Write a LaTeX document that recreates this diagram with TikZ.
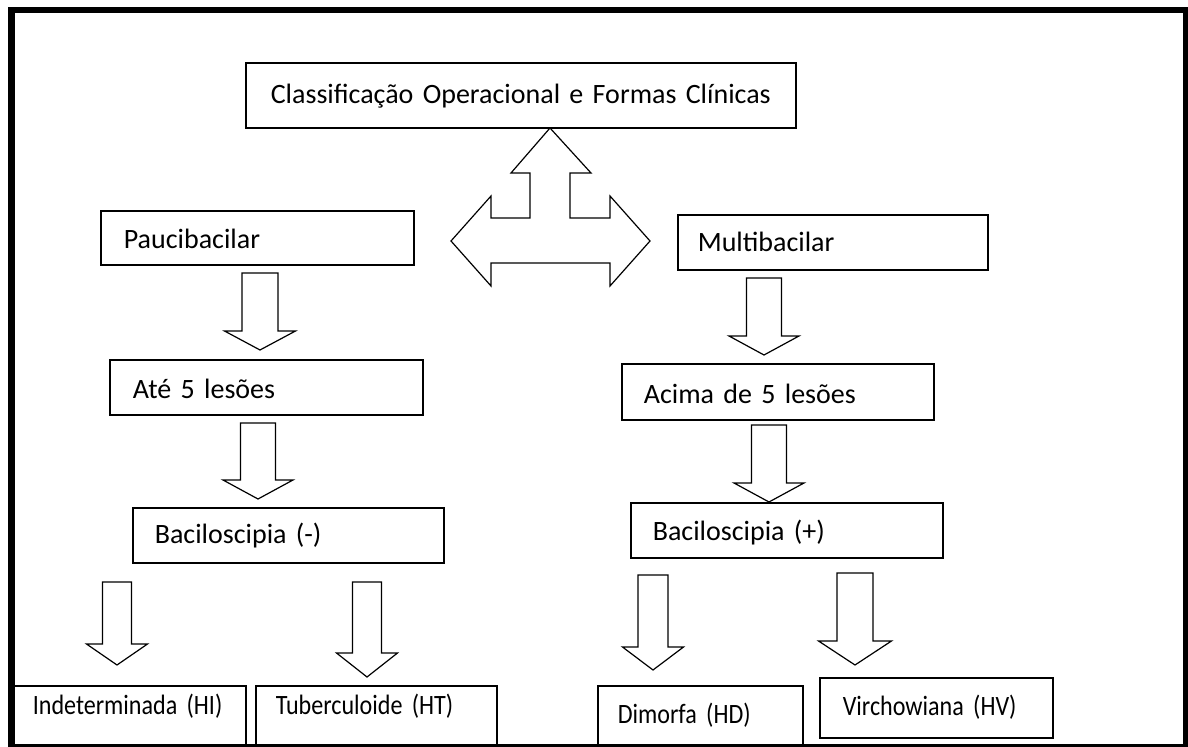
\documentclass[tikz,border=0pt]{standalone}
\usepackage{fontspec}
\setmainfont{Carlito}
\newfontfamily\narrowfont{Carlito}[FakeStretch=0.86]

% hollow down arrow: x, top, head base, tip, shaft half width, head half width
\newcommand{\downblock}[6]{%
 \draw[blockarrow] (#1-#5,#2) -- (#1+#5,#2) -- (#1+#5,#3) -- (#1+#6,#3)
   -- (#1,#4) -- (#1-#6,#3) -- (#1-#5,#3) -- cycle;}

\begin{document}
\begin{tikzpicture}[x=0.5pt, y=-0.5pt,
  box/.style n args={4}{draw, line width=0.8pt, anchor=north west, align=left,
    font=\fontsize{14pt}{16pt}\selectfont, inner ysep=0pt,
    inner xsep=#1, text width=#2, text height=#3, text depth=#4},
  narrowtext/.style={font=\narrowfont\fontsize{14pt}{16pt}\selectfont},
  blockarrow/.style={draw, line width=0.6pt, fill=white, line join=miter}]
 \useasboundingbox (0,0) rectangle (1188,747);
 \fill[white] (0,0) rectangle (1188,747);

 % outer frame
 \draw[line width=3.3pt] (11.5,10) rectangle (1186,747);

 % boxes
 \node (classif) [box={0pt}{275pt}{20.5pt}{12pt}, align=center] at (245,62)
   {Classificação Operacional e Formas Clínicas};
 \node (pauci) [box={11.5pt}{133.5pt}{19pt}{8pt}] at (100,210) {Paucibacilar};
 \node (multi) [box={10pt}{135pt}{18.5pt}{9pt}] at (677,214) {Multibacilar};
 \node (ate) [box={11.5pt}{133.5pt}{19.5pt}{8pt}] at (109,359) {Até 5 lesões};
 \node (acima) [box={11pt}{134pt}{20pt}{8pt}] at (621,363) {Acima de 5 lesões};
 \node (bacneg) [box={11pt}{133.5pt}{18pt}{9.5pt}] at (132,507) {Baciloscipia (-)};
 \node (bacpos) [box={11pt}{134pt}{19pt}{8.5pt}] at (630,502) {Baciloscipia (+)};
 \node (indet) [box={9.5pt}{97pt}{14.5pt}{15.5pt}, narrowtext] at (13,685) {Indeterminada (HI)};
 \node (tuber) [box={10pt}{100.5pt}{14.5pt}{15.5pt}, narrowtext] at (255,685) {Tuberculoide (HT)};
 \node (dimorfa) [box={10pt}{82.5pt}{19pt}{11pt}, narrowtext] at (597,685) {Dimorfa (HD)};
 \node (virch) [box={11.5pt}{93.5pt}{19pt}{11pt}, narrowtext] at (819,677) {Virchowiana (HV)};

 % three-way arrow
 \draw[blockarrow] (550,128) -- (591,173) -- (570,173) -- (570,218) -- (610,218)
   -- (610,196) -- (650,241) -- (610,286) -- (610,263) -- (491,263) -- (491,286)
   -- (451,241) -- (491,196) -- (491,218) -- (530,218) -- (530,173) -- (511,173) -- cycle;

 % down arrows
 \downblock{260}{273}{331}{350}{18}{35.5}
 \downblock{764}{278}{336}{355}{17.5}{35}
 \downblock{258}{423}{480}{499}{17.5}{35}
 \downblock{769}{425}{483}{502}{17.5}{35}
 \downblock{117}{582}{644}{665}{14.5}{30.5}
 \downblock{367}{582}{653}{677}{14.5}{30.5}
 \downblock{653}{575}{647}{670}{15}{30.5}
 \downblock{855}{573}{641}{665}{18}{36.5}
\end{tikzpicture}
\end{document}
